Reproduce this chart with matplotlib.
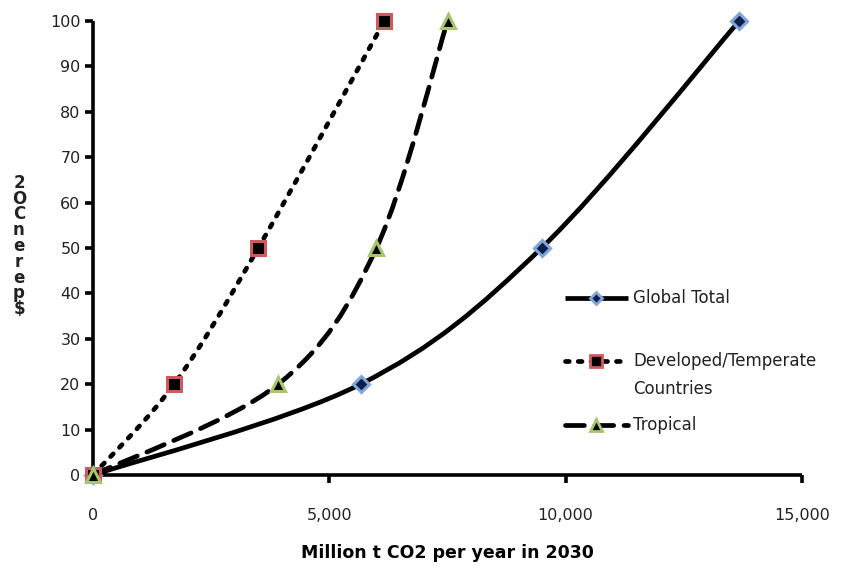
import matplotlib
matplotlib.use("Agg")
import matplotlib.pyplot as plt
import numpy as np
from matplotlib.path import Path
from matplotlib.patches import PathPatch
from matplotlib.lines import Line2D

# Data
global_x = [0, 5660, 9490, 13670]
global_y = [0, 20, 50, 100]
dev_x = [0, 1716, 3496, 6165]
dev_y = [0, 20, 50, 100]
trop_x = [0, 3919, 5996, 7500]
trop_y = [0, 20, 50, 100]

series_labels = ["Global Total", "Developed/Temperate\nCountries", "Tropical"]
x_ticks = [0, 5000, 10000, 15000]
x_ticklabels = ["0", "5,000", "10,000", "15,000"]
y_ticks = list(range(0, 101, 10))

W, H = 857, 572
fig = plt.figure(figsize=(8.57, 5.72), dpi=100)
ax = fig.add_axes([93/W, 97/H, 709/W, 454/H])
ax.set_xlim(0, 15000)
ax.set_ylim(0, 100)

for s in ["top", "right"]:
    ax.spines[s].set_visible(False)
for s in ["left", "bottom"]:
    ax.spines[s].set_linewidth(2.6)
    ax.spines[s].set_capstyle("butt")
ax.set_xticks(x_ticks)
ax.set_xticklabels(x_ticklabels)
ax.set_yticks(y_ticks)
ax.tick_params(axis="both", direction="out", length=6, width=2.6, labelsize=11.5,
               colors="black", labelcolor="#222222")
ax.tick_params(axis="x", pad=18)
ax.tick_params(axis="y", pad=3)

def smooth_path(xs, ys):
    pts = ax.transData.transform(np.column_stack([xs, ys]))
    n = len(pts)
    verts = [pts[0]]
    codes = [Path.MOVETO]
    for i in range(n - 1):
        p0 = pts[i - 1] if i > 0 else pts[i]
        p1 = pts[i]
        p2 = pts[i + 1]
        p3 = pts[i + 2] if i + 2 < n else pts[i + 1]
        c1 = p1 + (p2 - p0) / 6.0
        c2 = p2 - (p3 - p1) / 6.0
        verts += [c1, c2, p2]
        codes += [Path.CURVE4] * 3
    verts = ax.transData.inverted().transform(np.array(verts))
    return Path(verts, codes)

styles = [
    dict(marker="D", mfc="#0d1f4a", mec="#7fa7d9", ms=8, dashes=None),
    dict(marker="s", mfc="#000000", mec="#d0595f", ms=10, dashes=(0.8, 1.9)),
    dict(marker="^", mfc="#000000", mec="#a8c66c", ms=10, dashes=(4.0, 2.2)),
]
data = [(global_x, global_y), (dev_x, dev_y), (trop_x, trop_y)]

# legend entry rows (pixel y from top of figure)
legend_rows = [298, 361, 425]

for (xs, ys), st, lab, ry in zip(data, styles, series_labels, legend_rows):
    path = smooth_path(xs, ys)
    patch = PathPatch(path, facecolor="none", edgecolor="black", lw=3.4,
                      capstyle="round", zorder=3, clip_on=False)
    if st["dashes"] is not None:
        patch.set_linestyle((0, st["dashes"]))
    ax.add_patch(patch)
    ax.plot(xs, ys, ls="none", marker=st["marker"], mfc=st["mfc"], mec=st["mec"],
            ms=st["ms"], mew=2.2, zorder=4, clip_on=False)

    # manual legend entry
    yf = 1 - ry / H
    hl = Line2D([565/W, 628/W], [yf, yf], transform=fig.transFigure, color="black",
                lw=3.4, dash_capstyle="round", solid_capstyle="butt")
    if st["dashes"] is not None:
        hl.set_dashes(st["dashes"])
    fig.add_artist(hl)
    hm = Line2D([596/W], [yf], transform=fig.transFigure, ls="none",
                marker=st["marker"], mfc=st["mfc"], mec=st["mec"],
                ms=st["ms"] * 0.8, mew=2.0)
    fig.add_artist(hm)
    lines = lab.split("\n")
    for k, line in enumerate(lines):
        fig.text(633/W, 1 - (ry + 28 * k) / H, line, ha="left", va="center",
                 fontsize=12, color="#222222")

ax.set_xlabel("Million t CO2 per year in 2030", fontsize=12.5, fontweight="bold",
              labelpad=15)

fig.text(19/W, 1 - 246/H, "2\nO\nC\nn\ne\nr\ne\np\n$", ha="center", va="center",
         fontsize=12, fontweight="bold", linespacing=0.84, color="#222222")

fig.savefig("out.png", dpi=100)
